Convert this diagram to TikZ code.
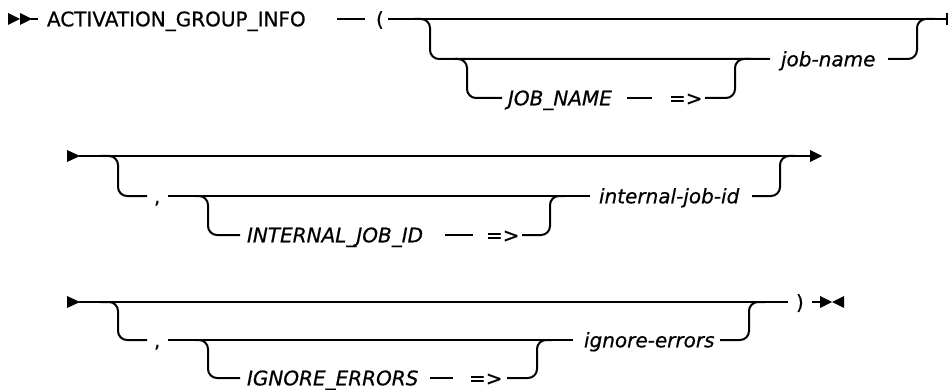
\documentclass[tikz,border=0pt]{standalone}
\usepackage{fontspec}
\setmainfont{DejaVu Sans}[UprightFeatures={FakeBold=0.6},ItalicFeatures={FakeBold=0.6}]
\begin{document}
\begin{tikzpicture}[x=1pt,y=-1pt,line width=2pt,
  lbl/.style={inner sep=0pt,text height=16pt,text depth=1.4pt,anchor=west,font=\fontsize{20}{24}\selectfont},
  ilbl/.style={lbl,font=\fontsize{20}{24}\selectfont\itshape},
  rail/.style={line width=2pt,rounded corners=9pt},
  tri/.style={fill=black,draw=none}]
\useasboundingbox (0,0) rectangle (949,390);

% ---------------- row 1 ----------------
\node[lbl] (kw) at (46,19) {ACTIVATION\_GROUP\_INFO};
\node[lbl] (lp) at (375,19) {(};
\node[ilbl] (jn) at (780,59) {job-name};
\node[ilbl] (jnk) at (507,98) {JOB\_NAME};
\node[lbl] (ar1) at (668,98) {=>};

\fill[tri] (8,13) -- (20,19) -- (8,25) -- cycle;
\fill[tri] (20,13) -- (32,19) -- (20,25) -- cycle;
\coordinate (s1a) at (31,19); \coordinate (s1b) at (38,19);
\draw (s1a) -- (s1b);
\coordinate (d1a) at (337,19); \coordinate (d1b) at (365,19);
\draw (d1a) -- (d1b);
\coordinate (m1a) at (388,19); \coordinate (m1b) at (947,19);
\draw (m1a) -- (m1b);
\draw (947,13) -- (947,25);
\draw[rail] (414,19) -- (430,19) -- (430,59) -- (770,59);
\draw[rail] (455,59) -- (467,59) -- (467,98) -- (502,98);
\draw (627,98) -- (652,98);
\draw[rail] (705,98) -- (735,98) -- (735,59) -- (750,59);
\draw[rail] (888,59) -- (917,59) -- (917,19) -- (935,19);

% ---------------- row 2 ----------------
\node[lbl] (c2) at (153,196) {,};
\node[ilbl] (ijk) at (246,235) {INTERNAL\_JOB\_ID};
\node[lbl] (ar2) at (485,235) {=>};
\node[ilbl] (ij) at (598,196) {internal-job-id};

\fill[tri] (67,150) -- (80,156) -- (67,162) -- cycle;
\draw (79,156) -- (811,156);
\fill[tri] (810,150) -- (822,156) -- (810,162) -- cycle;
\draw[rail] (100,156) -- (118,156) -- (118,196) -- (147,196);
\draw (168,196) -- (590,196);
\draw[rail] (195,196) -- (208,196) -- (208,235) -- (240,235);
\draw (445,235) -- (473,235);
\draw[rail] (522,235) -- (550,235) -- (550,196) -- (565,196);
\draw[rail] (752,196) -- (780,196) -- (780,156) -- (795,156);

% ---------------- row 3 ----------------
\node[lbl] (c3) at (153,340) {,};
\node[ilbl] (iek) at (246,378) {IGNORE\_ERRORS};
\node[lbl] (ar3) at (468,378) {=>};
\node[ilbl] (ie) at (583,340) {ignore-errors};
\node[lbl] (rp) at (795,302) {)};

\fill[tri] (67,296) -- (80,302) -- (67,308) -- cycle;
\draw (79,302) -- (788,302);
\draw[rail] (100,302) -- (118,302) -- (118,340) -- (147,340);
\draw (168,340) -- (573,340);
\draw[rail] (195,340) -- (208,340) -- (208,378) -- (240,378);
\draw (430,378) -- (453,378);
\draw[rail] (507,378) -- (537,378) -- (537,340) -- (552,340);
\draw[rail] (720,340) -- (749,340) -- (749,302) -- (765,302);
\draw (812,302) -- (821,302);
\fill[tri] (820,296) -- (832,302) -- (820,308) -- cycle;
\fill[tri] (844,296) -- (832,302) -- (844,308) -- cycle;
\end{tikzpicture}
\end{document}
